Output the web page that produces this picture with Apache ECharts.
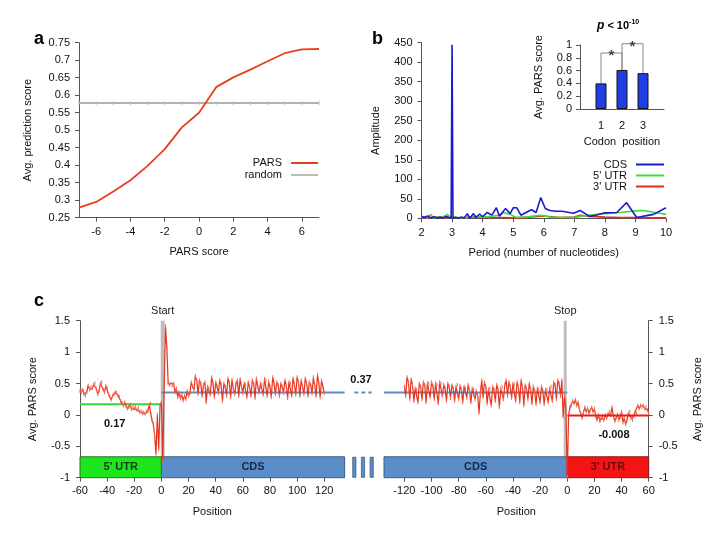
<!DOCTYPE html>
<html><head><meta charset="utf-8">
<script src="https://cdn.jsdelivr.net/npm/echarts@6/dist/echarts.min.js"></script>
<style>html,body{margin:0;padding:0;background:#fff}#c{width:717px;height:539px}</style>
</head><body><div id="c"></div>
<script>
// ---------------- DATA ----------------
// Panel a
const parsX = [-7,-6,-5,-4,-3,-2,-1,0,1,2,3,4,5,6,7];
const parsScore = [0.279,0.295,0.325,0.357,0.398,0.446,0.508,0.550,0.623,0.651,0.673,0.697,0.720,0.731,0.732];
const randomScore = [0.578,0.578,0.578,0.578,0.578,0.578,0.578,0.578,0.578,0.578,0.578,0.578,0.578,0.578,0.578];
const aYTicks = [0.25,0.3,0.35,0.4,0.45,0.5,0.55,0.6,0.65,0.7,0.75];
const aXTicks = [-6,-4,-2,0,2,4,6];

// Panel b
const cdsPeriod = [2,2.1,2.2,2.3,2.4,2.5,2.6,2.7,2.8,2.9,2.97,3,3.03,3.1,3.2,3.3,3.4,3.5,3.58,3.7,3.78,3.9,4.0,4.15,4.3,4.45,4.55,4.75,4.9,5.0,5.12,5.25,5.45,5.6,5.75,5.9,6.05,6.2,6.4,6.6,6.97,7.19,7.5,7.7,8.0,8.39,8.71,9.04,9.59,10];
const cdsAmp    = [5,2,6,1,4,0,3,1,5,2,0,445,0,2,0,3,1,12,0,12,2,11,4,15,8,27,5,25,12,27,27,8,16,22,15,53,25,20,18,18,13,20,5,8,14,15,40,2,10,27];
const utr5Period = [2,2.2,2.3,2.4,2.6,2.75,2.85,2.95,3.1,3.3,3.5,3.8,4,4.3,4.5,4.7,4.9,5.1,5.4,5.7,5.9,6.2,6.6,7,7.2,7.6,8,8.5,9,9.2,9.5,10];
const utr5Amp    = [3,2,10,0,3,5,10,2,3,1,2,5,3,5,8,15,10,2,3,6,8,3,2,2,5,9,12,15,19,20,17,10];
const utr3Period = [2,2.2,2.5,2.8,3,3.3,3.6,4,4.5,5,5.5,6,6.5,7,7.2,7.5,8,8.5,9,9.5,10];
const utr3Amp    = [4,1,3,1,2,1,3,2,2,1,3,6,2,3,8,5,3,2,2,1,1];

// Inset
const codonPos = [1,2,3];
const codonScore = [0.40,0.61,0.56];
const bracketPairs = [[0,1],[1,2]];
const bracketLevels = [0.875,1.02];

// Panel c
const startFirstPos = -60;
const startVals = [
 0.38,0.36,0.40,0.33,0.31,0.36,0.47,0.41,0.44,0.42,
 0.48,0.50,0.42,0.33,0.38,0.50,0.52,0.41,0.36,0.46,
 0.43,0.33,0.30,0.24,0.30,0.33,0.36,0.35,0.31,0.28,
 0.22,0.19,0.15,0.20,0.14,0.10,0.12,0.16,0.09,0.12,
 0.10,0.13,0.08,0.11,0.05,0.06,0.03,0.04,0.02,0.05,
 0.06,0.16,0.18,-0.08,-0.14,-0.32,-0.62,0.00,-0.55,0.15,
 0.20,-0.73,0.40,1.41,1.07,0.50,
 0.48,0.50,0.47,0.50,0.36,0.42,0.28,0.36,0.26,0.32,0.23,0.30,0.25,0.38,0.30,
 0.35,0.52,0.45, 0.40,0.62,0.55, 0.33,0.55,0.50, 0.30,0.48,0.52, 0.20,0.45,0.42,
 0.32,0.60,0.50, 0.28,0.52,0.45, 0.35,0.55,0.48, 0.22,0.50,0.45, 0.30,0.58,0.52,
 0.28,0.56,0.42, 0.33,0.50,0.55, 0.30,0.57,0.45, 0.35,0.50,0.48, 0.28,0.52,0.44,
 0.30,0.55,0.50, 0.27,0.58,0.45, 0.36,0.50,0.48, 0.32,0.57,0.55, 0.30,0.53,0.45,
 0.28,0.60,0.50, 0.33,0.52,0.48, 0.30,0.50,0.45, 0.35,0.55,0.47, 0.27,0.52,0.50,
 0.30,0.58,0.48, 0.32,0.60,0.52, 0.30,0.55,0.45, 0.33,0.58,0.50, 0.30,0.52,0.48,
 0.34,0.60,0.46, 0.30,0.64,0.50, 0.28,0.55,0.45,
 0.35];
const stopFirstPos = -120;
const stopVals = [
 0.45,0.30,0.60,0.52,0.25,0.57,0.48,0.22,0.42,
 0.40,0.20,0.50,0.45,0.25,0.52,0.48,0.20,0.50,
 0.50,0.28,0.52,0.46,0.25,0.50,0.48,0.18,0.52,
 0.50,0.30,0.48,0.42,0.22,0.50,0.45,0.27,0.47,
 0.42,0.22,0.45,0.48,0.25,0.46,0.40,0.20,0.45,
 0.42,0.27,0.48,0.38,0.20,0.42,0.40,0.25,0.38,
 0.30,0.03,0.35,0.55,0.28,0.52,0.45,0.18,0.40,
 0.42,0.15,0.45,0.40,0.22,0.48,0.40,0.12,0.42,
 0.45,0.25,0.48,0.55,0.30,0.52,0.45,0.27,0.50,
 0.48,0.22,0.52,0.45,0.20,0.55,0.45,0.15,0.47,
 0.42,0.25,0.50,0.40,0.18,0.45,0.38,0.17,0.42,
 0.40,0.20,0.45,0.38,0.17,0.40,0.40,0.20,0.42,
 0.45,0.22,0.52,0.48,0.25,0.55,0.50,0.30,0.55,
 -0.03,0.30,0.10,
 -0.98,
 0.00,0.12,
 0.15,0.22,0.18,0.24,0.15,0.20,0.08,0.02,
 -0.05,0.05,0.12,0.05,0.10,0.02,0.08,0.12,0.05,0.10,
 -0.02,-0.08,0.00,-0.10,-0.05,-0.02,-0.08,0.00,-0.05,0.02,
 0.05,0.00,0.12,-0.02,-0.10,-0.05,0.00,-0.08,-0.03,0.05,
 -0.12,-0.05,-0.15,-0.08,0.02,0.05,-0.05,-0.08,-0.02,0.05,
 0.02,0.15,0.10,0.15,0.12,0.15,0.10,0.12,0.08,0.03];
const meanUtr5 = 0.17, meanCds = 0.355, meanUtr3 = -0.008;
const meanLabels = ['0.17','0.37','-0.008'];
const leftRegions  = [{name:"5' UTR", from:-60, to:0}, {name:'CDS', from:0, to:135}];
const rightRegions = [{name:'CDS', from:-135, to:0}, {name:"3' UTR", from:0, to:60}];
const startCodon = [-0.5,2.4], stopCodon = [-2.6,-0.4];
const cLeftTicks = [-60,-40,-20,0,20,40,60,80,100,120];
const cRightTicks = [-120,-100,-80,-60,-40,-20,0,20,40,60];

// ---------------- STYLE / OPTION ----------------
const FONT = 'Liberation Sans, Arial, Helvetica, sans-serif';
const AX = '#555';
const TXT = '#111';
function merge(a,b){ const o = Array.isArray(a)?a.slice():Object.assign({},a); for(const k in b){ if(b[k] && typeof b[k]==='object' && !Array.isArray(b[k]) && a[k] && typeof a[k]==='object'){ o[k]=merge(a[k],b[k]); } else o[k]=b[k]; } return o; }
function axis(extra){
  return merge({
    type:'value', splitLine:{show:false}, nameLocation:'middle',
    axisLine:{show:true, onZero:false, lineStyle:{color:AX,width:1}},
    axisTick:{show:true, length:4, inside:false, lineStyle:{color:AX}},
    axisLabel:{color:TXT, fontSize:11, fontFamily:FONT},
    nameTextStyle:{color:TXT, fontSize:11, fontFamily:FONT}
  }, extra);
}

const blockTop = -0.667;
const regionColors = {"5' UTR":['#1ee61e','#2d6e2d','#143c14'], 'CDS':['#5b8dc8','#3b5f8c','#13294b'], "3' UTR":['#f41414','#8a1a1a','#6a0a0a']};
function blocks(regions){
  return regions.map(r => [
    {xAxis:r.from, yAxis:-1, itemStyle:{color:regionColors[r.name][0], borderColor:regionColors[r.name][1], borderWidth:1},
     label:{show:true, position:'inside', formatter:r.name, color:regionColors[r.name][2], fontWeight:'bold', fontSize:11, fontFamily:FONT}},
    {xAxis:r.to, yAxis:blockTop}
  ]);
}
function codonBar(range, text){
  return {silent:true, z:0, data:[[{xAxis:range[0], yAxis:blockTop, itemStyle:{color:'#bdbdbd'},
    label:{show:true, position:'top', distance:4, formatter:text, color:'#222', fontSize:11, fontFamily:FONT}},
    {xAxis:range[1], yAxis:1.5}]]};
}
const zip = (xs,ys) => xs.map((x,i)=>[x,ys[i]]);
const posSeries = (first, vals) => vals.map((v,i)=>[first+i, v]);

const brackets = bracketPairs.map((p,k)=>({
  type:'line', xAxisIndex:2, yAxisIndex:2, clip:false, symbol:'none', silent:true,
  lineStyle:{color:'#888', width:1}, z:1,
  data:[[codonPos[p[0]],codonScore[p[0]]],[codonPos[p[0]],bracketLevels[k]],[codonPos[p[1]],bracketLevels[k]],[codonPos[p[1]],codonScore[p[1]]]]
}));
const stars = {type:'scatter', xAxisIndex:2, yAxisIndex:2, clip:false, symbolSize:0, silent:true,
  data: bracketPairs.map((p,k)=>[(codonPos[p[0]]+codonPos[p[1]])/2, bracketLevels[k]]),
  label:{show:true, formatter:'*', position:'inside', offset:[0,3], fontSize:15, fontWeight:'bold', color:'#222', fontFamily:FONT}};

const option = {
  animation:false, backgroundColor:'#fff',
  textStyle:{fontFamily:FONT},
  title:[
    {text:'a', left:29, top:25, textStyle:{fontSize:18, fontWeight:'bold', color:'#000', fontFamily:FONT}},
    {text:'b', left:367, top:25, textStyle:{fontSize:18, fontWeight:'bold', color:'#000', fontFamily:FONT}},
    {text:'c', left:29, top:287, textStyle:{fontSize:18, fontWeight:'bold', color:'#000', fontFamily:FONT}},
    {text:'{p|p} < 10{s|-10}', left:592, top:14, textStyle:{fontSize:11, fontWeight:'bold', color:'#000', fontFamily:FONT,
      rich:{p:{fontStyle:'italic', fontWeight:'bold', fontSize:12, fontFamily:FONT}, s:{fontSize:7, fontWeight:'bold', verticalAlign:'top', padding:[0,0,6,0], fontFamily:FONT}}}}
  ],
  legend:[
    {orient:'vertical', right:399, top:157, itemWidth:27, itemHeight:2, itemGap:0, align:'right', icon:'rect', padding:0,
     textStyle:{fontSize:11, color:TXT, lineHeight:12, padding:[0,4,0,0], fontFamily:FONT}, data:['PARS','random'], selectedMode:false},
    {orient:'vertical', right:53, top:159, itemWidth:28, itemHeight:2, itemGap:0, align:'right', icon:'rect', padding:0,
     textStyle:{fontSize:11, color:TXT, lineHeight:10.7, padding:[0,4,0,0], fontFamily:FONT}, data:['CDS',"5' UTR","3' UTR"], selectedMode:false}
  ],
  grid:[
    {left:79, top:42.7, width:240, height:175, outerBoundsMode:'none'},
    {left:421.5, top:42.7, width:244.5, height:175.6, outerBoundsMode:'none'},
    {left:580, top:45, width:84, height:64, outerBoundsMode:'none'},
    {left:80, top:320.7, width:264.6, height:157, outerBoundsMode:'none'},
    {left:350, top:320.7, width:26, height:157, outerBoundsMode:'none'},
    {left:384, top:320.7, width:264.7, height:157, outerBoundsMode:'none'}
  ],
  xAxis:[
    axis({gridIndex:0, min:-7, max:7, name:'PARS score', nameGap:29, axisTick:{customValues:aXTicks}, axisLabel:{customValues:aXTicks, margin:9}}),
    axis({gridIndex:1, min:2, max:10, interval:1, name:'Period (number of nucleotides)', nameGap:29, axisLabel:{margin:9}}),
    axis({gridIndex:2, min:0, max:4, name:'Codon  position', nameGap:27, axisTick:{show:false}, axisLabel:{customValues:codonPos, margin:11}}),
    axis({gridIndex:3, min:-60, max:135, name:'Position', nameGap:29, axisLine:{show:false}, axisTick:{customValues:cLeftTicks}, axisLabel:{customValues:cLeftTicks, margin:8}}),
    {gridIndex:4, type:'category', data:['','',''], show:false},
    axis({gridIndex:5, min:-135, max:60, name:'Position', nameGap:29, axisLine:{show:false}, axisTick:{customValues:cRightTicks}, axisLabel:{customValues:cRightTicks, margin:8}})
  ],
  yAxis:[
    axis({gridIndex:0, min:0.25, max:0.75, name:'Avg. prediction score', nameGap:46, axisTick:{customValues:aYTicks}, axisLabel:{customValues:aYTicks, margin:9}}),
    axis({gridIndex:1, min:0, max:450, interval:50, name:'Amplitude', nameGap:40, axisLabel:{margin:9}}),
    axis({gridIndex:2, min:0, max:1, interval:0.2, name:'Avg. PARS score', nameGap:36, axisLabel:{margin:8}}),
    axis({gridIndex:3, min:-1, max:1.5, interval:0.5, name:'Avg. PARS score', nameGap:42, axisLabel:{margin:10}}),
    {gridIndex:4, type:'value', min:-1, max:1.5, show:false},
    axis({gridIndex:5, min:-1, max:1.5, interval:0.5, position:'right', name:'Avg. PARS score', nameGap:44, axisLabel:{margin:10}})
  ],
  series:[
    // a
    {name:'random', type:'line', xAxisIndex:0, yAxisIndex:0, data:zip(parsX,randomScore), clip:false,
     symbol:'rect', symbolSize:[1,4], showAllSymbol:true, itemStyle:{color:'#bbb'}, lineStyle:{color:'#999', width:1.5}},
    {name:'PARS', type:'line', xAxisIndex:0, yAxisIndex:0, data:zip(parsX,parsScore), symbol:'none',
     itemStyle:{color:'#e8401c'}, lineStyle:{color:'#e8401c', width:1.8}},
    // b
    {name:"3' UTR", type:'line', xAxisIndex:1, yAxisIndex:1, data:zip(utr3Period,utr3Amp), symbol:'none', itemStyle:{color:'#e22a1e'}, lineStyle:{color:'#e22a1e', width:1.6}},
    {name:"5' UTR", type:'line', xAxisIndex:1, yAxisIndex:1, data:zip(utr5Period,utr5Amp), symbol:'none', itemStyle:{color:'#3ede3e'}, lineStyle:{color:'#3ede3e', width:1.6}},
    {name:'CDS', type:'line', xAxisIndex:1, yAxisIndex:1, data:zip(cdsPeriod,cdsAmp), symbol:'none', itemStyle:{color:'#1a1ad0'}, lineStyle:{color:'#1a1ad0', width:1.6}},
    // inset
    {type:'bar', xAxisIndex:2, yAxisIndex:2, data:zip(codonPos,codonScore), barWidth:11, itemStyle:{color:'#1f3fe4', borderColor:'#111', borderWidth:1}, z:2},
    ...brackets, stars,
    // c left
    {type:'line', xAxisIndex:3, yAxisIndex:3, data:[[leftRegions[0].from,meanUtr5],[leftRegions[0].to,meanUtr5]], symbol:'none',
     lineStyle:{color:'#3ad43a', width:2}, z:2, markArea:{silent:true, data:blocks(leftRegions)},
     markPoint:{symbol:'circle', symbolSize:0, data:[{coord:[(leftRegions[0].from+leftRegions[0].to)/2, meanUtr5]}],
       label:{show:true, formatter:meanLabels[0], offset:[-6,20], color:'#111', fontWeight:'bold', fontSize:11, fontFamily:FONT}}},
    {type:'line', xAxisIndex:3, yAxisIndex:3, data:[[leftRegions[1].from,meanCds],[leftRegions[1].to,meanCds]], symbol:'none',
     lineStyle:{color:'#5b8dc8', width:2}, z:1, markArea:codonBar(startCodon,'Start')},
    {type:'line', xAxisIndex:3, yAxisIndex:3, data:posSeries(startFirstPos,startVals), z:10,
     symbol:'rect', symbolSize:[1,4], showAllSymbol:true, itemStyle:{color:'#f06a55'}, lineStyle:{color:'#e8321c', width:1.2}},
    // c middle (axis break)
    {type:'bar', xAxisIndex:4, yAxisIndex:4, stack:'brk', data:[blockTop,blockTop,blockTop], barWidth:4, itemStyle:{color:'transparent'}, silent:true},
    {type:'bar', xAxisIndex:4, yAxisIndex:4, stack:'brk', data:[-1-blockTop,-1-blockTop,-1-blockTop], barWidth:4, itemStyle:{color:'#5b8dc8', borderColor:'#3b5f8c', borderWidth:0.8}, silent:true},
    {type:'line', xAxisIndex:4, yAxisIndex:4, data:[meanCds,meanCds,meanCds], symbol:'none', lineStyle:{color:'#5b8dc8', width:2, type:[4,3]},
     markPoint:{symbol:'circle', symbolSize:0, data:[{coord:[1, meanCds]}],
       label:{show:true, formatter:meanLabels[1], offset:[-2,-13], color:'#111', fontWeight:'bold', fontSize:11, fontFamily:FONT}}},
    // c right
    {type:'line', xAxisIndex:5, yAxisIndex:5, data:[[rightRegions[0].from,meanCds],[rightRegions[0].to,meanCds]], symbol:'none',
     lineStyle:{color:'#5b8dc8', width:2}, z:2, markArea:{silent:true, data:blocks(rightRegions)}},
    {type:'line', xAxisIndex:5, yAxisIndex:5, data:[[rightRegions[1].from,meanUtr3],[rightRegions[1].to,meanUtr3]], symbol:'none',
     lineStyle:{color:'#ee1a10', width:2}, z:11, markArea:codonBar(stopCodon,'Stop'),
     markPoint:{symbol:'circle', symbolSize:0, data:[{coord:[(rightRegions[1].from+rightRegions[1].to)/2, meanUtr3]}],
       label:{show:true, formatter:meanLabels[2], offset:[6,20], color:'#111', fontWeight:'bold', fontSize:11, fontFamily:FONT}}},
    {type:'line', xAxisIndex:5, yAxisIndex:5, data:posSeries(stopFirstPos,stopVals), z:10,
     symbol:'rect', symbolSize:[1,4], showAllSymbol:true, itemStyle:{color:'#f06a55'}, lineStyle:{color:'#e8321c', width:1.2}}
  ]
};
const chart = echarts.init(document.getElementById('c'), null, {renderer:'canvas'});
chart.setOption(option);
</script></body></html>
